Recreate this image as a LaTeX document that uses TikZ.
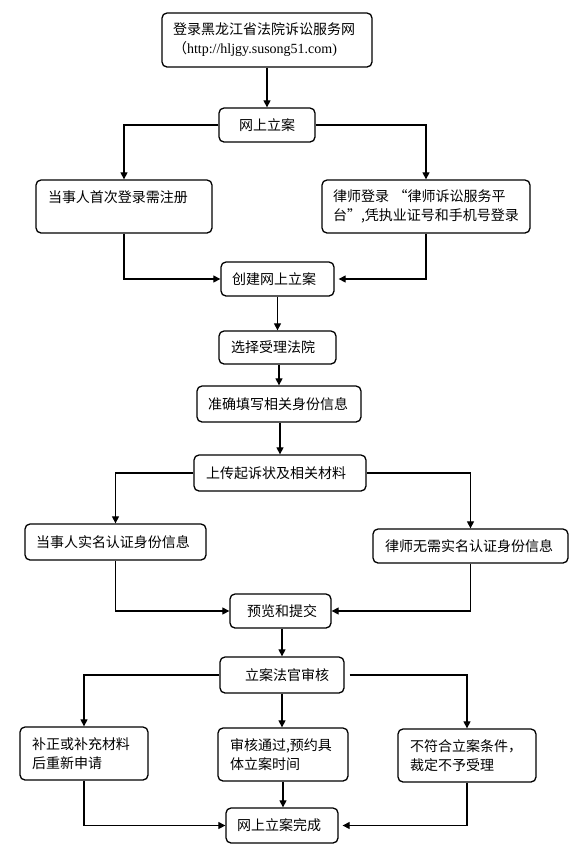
\documentclass[tikz,border=0pt]{standalone}
\usepackage{fontspec}
\setmainfont{Noto Sans CJK SC}
\newfontfamily\urlfont{Liberation Serif}
\usetikzlibrary{arrows.meta}
\tikzset{
  bx/.style={draw=black, line width=1.3pt, rounded corners=5pt, align=left,
    inner xsep=12pt, inner ysep=0pt, font=\fontsize{14}{19}\selectfont},
  arr/.style={draw=black, line width=1.2pt, -{Triangle[length=7pt,width=7pt]}}
}
\begin{document}
\begin{tikzpicture}[x=1pt,y=-1pt]
\fill[white] (0,0) rectangle (575,847);
\useasboundingbox (0,0) rectangle (575,847);
% nodes
\node[bx, text width=188pt, inner xsep=11pt, minimum height=54pt] (top) at (267,40)
  {登录黑龙江省法院诉讼服务网\\（{\urlfont http://hljgy.susong51.com)}};
\node[bx, align=center, text width=72pt, minimum height=34pt] (wsla) at (267,125) {网上立案};
\node[bx, text width=152pt, minimum height=53pt] (dsr1) at (124,206.5) {当事人首次登录需注册\\\mbox{}};
\node[bx, text width=186pt, inner xsep=11pt, minimum height=53pt] (ls1) at (426,206.5)
  {律师登录 “律师诉讼服务平\\台”,凭执业证号和手机号登录};
\node[bx, text width=91pt, inner xsep=11pt, minimum height=34pt] (cj) at (277.5,279) {创建网上立案};
\node[bx, text width=93pt, minimum height=33pt] (xz) at (277.5,347.5) {选择受理法院};
\node[bx, text width=142pt, inner xsep=11pt, minimum height=36pt] (zq) at (279,404) {准确填写相关身份信息};
\node[bx, text width=148pt, minimum height=36pt] (sc) at (280,473) {上传起诉状及相关材料};
\node[bx, text width=159pt, inner xsep=11pt, minimum height=36pt] (dsr2) at (115.5,542) {当事人实名认证身份信息};
\node[bx, text width=171pt, minimum height=34pt] (ls2) at (470.5,546) {律师无需实名认证身份信息};
\node[bx, text width=77pt, minimum height=34pt] (yl) at (280.5,611) {\hspace*{5pt}预览和提交};
\node[bx, text width=100pt, minimum height=36pt] (sh) at (282,675) {\hspace*{13pt}立案法官审核};
\node[bx, text width=104pt, minimum height=53pt] (bu) at (84,753.5) {补正或补充材料\\后重新申请};
\node[bx, text width=106pt, minimum height=53pt] (mid) at (283,754.5) {审核通过,预约具\\体立案时间};
\node[bx, text width=114pt, minimum height=53pt] (bf) at (467,755.5) {不符合立案条件，\\裁定不予受理};
\node[bx, text width=90pt, inner xsep=11pt, minimum height=35pt] (wc) at (282,825.5) {网上立案完成};
% connectors
\draw[arr] (top) -- (wsla);
\draw[arr] (wsla.west) -| (dsr1.north);
\draw[arr] (wsla.east) -| (ls1.north);
\draw[arr] (dsr1.south) |- (cj.west);
\draw[arr, shorten >=4pt] (ls1.south) |- (cj.east);
\draw[arr] (cj) -- (xz);
\draw[arr] (zq.north |- xz.south) -- (zq.north);
\draw[arr] (sc.north |- zq.south) -- (sc.north);
\draw[arr] (sc.west) -| (dsr2.north);
\draw[arr] (sc.east) -| (ls2.north);
\draw[arr] (dsr2.south) |- (yl.west);
\draw[arr] (ls2.south) |- (yl.east);
\draw[arr] (sh.north |- yl.south) -- (sh.north);
\draw[arr] (sh.west) -| (bu.north);
\draw[arr] (sh.south) -- (sh.south |- mid.north);
\draw[arr, shorten <=5pt] (sh.east) -| (bf.north);
\draw[arr] (bu.south) |- (wc.west);
\draw[arr] (mid.south) -- (mid.south |- wc.north);
\draw[arr, shorten >=4pt] (bf.south) |- (wc.east);
\end{tikzpicture}
\end{document}
